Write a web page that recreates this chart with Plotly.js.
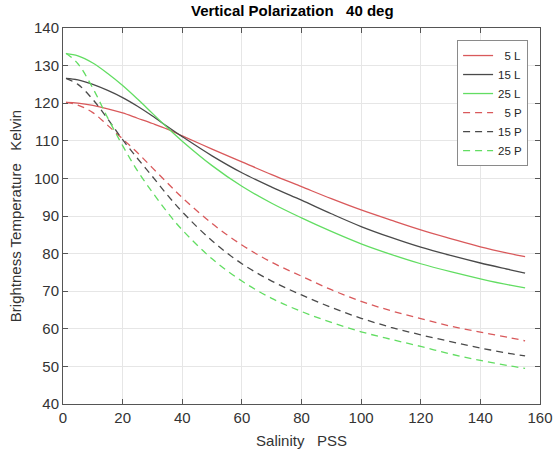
<!DOCTYPE html>
<html>
<head>
<meta charset="utf-8">
<script src="https://cdn.plot.ly/plotly-3.0.1.min.js"></script>
<style>html,body{margin:0;padding:0;background:#fff;}#chart{width:560px;height:451px;}</style>
</head>
<body>
<div id="chart"></div>
<script>
const salinity = [1, 5, 10, 15, 20, 25, 30, 35, 40, 50, 60, 70, 80, 90, 100, 110, 120, 130, 140, 150, 155];

const tb5L  = [120.2, 120.0, 119.4, 118.5, 117.4, 116.0, 114.6, 113.1, 111.3, 107.8, 104.4, 101.0, 97.8, 94.6, 91.6, 88.9, 86.3, 84.0, 81.8, 80.0, 79.2];
const tb15L = [126.6, 126.2, 125.0, 123.4, 121.5, 119.2, 116.6, 113.8, 111.1, 106.0, 101.5, 97.7, 94.2, 90.6, 87.2, 84.3, 81.7, 79.5, 77.5, 75.7, 74.8];
const tb25L = [133.2, 132.6, 130.7, 127.9, 124.7, 121.1, 117.3, 113.5, 109.9, 103.4, 97.9, 93.4, 89.5, 85.9, 82.6, 79.8, 77.3, 75.2, 73.3, 71.6, 70.9];
const tb5P  = [120.2, 119.5, 117.5, 114.1, 110.5, 106.8, 102.8, 98.8, 94.9, 88.0, 82.3, 77.7, 74.0, 70.4, 67.3, 64.8, 62.7, 60.7, 59.1, 57.6, 56.8];
const tb15P = [126.6, 125.0, 121.0, 115.8, 110.3, 105.3, 100.5, 95.6, 91.1, 83.4, 77.3, 72.7, 69.0, 65.7, 62.8, 60.4, 58.4, 56.6, 54.9, 53.4, 52.8];
const tb25P = [133.3, 130.5, 124.0, 116.1, 108.7, 102.0, 96.3, 91.0, 86.3, 78.6, 72.7, 68.1, 64.6, 61.7, 59.2, 57.2, 55.3, 53.3, 51.6, 50.1, 49.5];

const names = ["5 L", "15 L", "25 L", "5 P", "15 P", "25 P"];
const series = [tb5L, tb15L, tb25L, tb5P, tb15P, tb25P];
const xTicks = [0, 20, 40, 60, 80, 100, 120, 140, 160];
const yTicks = [40, 50, 60, 70, 80, 90, 100, 110, 120, 130, 140];

const colors = ["#d9595b", "#4a4a4a", "#62dd62", "#d9595b", "#4a4a4a", "#62dd62"];
const labelPad = ["\u00a0\u00a0", "", "", "\u00a0\u00a0", "", ""];

const traces = series.map((ys, i) => ({
  x: salinity,
  y: ys,
  type: "scatter",
  mode: "lines",
  name: labelPad[i] + names[i],
  line: {color: colors[i], width: 1.3, shape: "spline", smoothing: 1, dash: i < 3 ? "solid" : "7px,5px"}
}));

const font = "Liberation Sans, Arial, Helvetica, sans-serif";
const layout = {
  width: 560, height: 451,
  margin: {l: 63, r: 20, t: 28, b: 47},
  paper_bgcolor: "#ffffff",
  plot_bgcolor: "#ffffff",
  font: {family: font, size: 15, color: "#333333"},
  title: {text: "<b>Vertical Polarization   40 deg</b>", x: 0.522, xanchor: "center", y: 0.987, yanchor: "top",
          font: {family: font, size: 15, color: "#000000"}},
  showlegend: true,
  legend: {x: 0.975, xanchor: "right", y: 0.968, yanchor: "top", bgcolor: "#ffffff",
           bordercolor: "#8a8a8a", borderwidth: 1, font: {family: font, size: 11.5, color: "#262626"},
           tracegroupgap: 0, itemwidth: 30},
  xaxis: {
    range: [0, 160], tickvals: xTicks, ticktext: xTicks.map(String),
    showgrid: true, gridcolor: "#e6e6e6", zeroline: false,
    showline: true, linecolor: "#555555", linewidth: 1, mirror: "ticks",
    ticks: "inside", ticklen: 5, tickcolor: "#555555",
    tickfont: {family: font, size: 15, color: "#333333"},
    title: {text: "Salinity   PSS", font: {family: font, size: 15, color: "#333333"}, standoff: 10}
  },
  yaxis: {
    range: [40, 140], tickvals: yTicks, ticktext: yTicks.map(String),
    showgrid: true, gridcolor: "#e6e6e6", zeroline: false,
    showline: true, linecolor: "#555555", linewidth: 1, mirror: "ticks",
    ticks: "inside", ticklen: 5, tickcolor: "#555555",
    tickfont: {family: font, size: 15, color: "#333333"},
    title: {text: "Brightness Temperature   Kelvin", font: {family: font, size: 15, color: "#333333"}, standoff: 8}
  }
};

Plotly.newPlot("chart", traces, layout, {displayModeBar: false, staticPlot: true});
</script>
</body>
</html>
